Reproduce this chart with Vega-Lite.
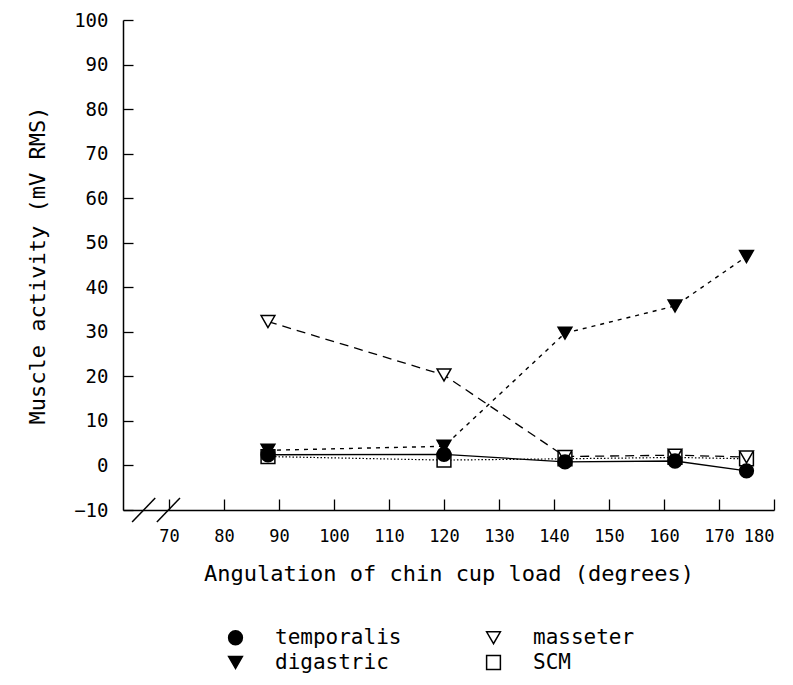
{
  "$schema": "https://vega.github.io/schema/vega-lite/v6.json",
  "width": 651,
  "height": 490,
  "autosize": "none",
  "padding": {"left": 123, "top": 20, "right": 19, "bottom": 175},
  "background": "white",
  "config": {
    "font": "DejaVu Sans Mono",
    "view": {"stroke": null},
    "axis": {
      "grid": false,
      "domainColor": "black",
      "domainWidth": 1.5,
      "tickColor": "black",
      "tickWidth": 1.3,
      "labelColor": "black",
      "titleColor": "black",
      "titleFontWeight": "normal",
      "titleFontSize": 22,
      "labelFont": "DejaVu Sans Mono",
      "titleFont": "DejaVu Sans Mono"
    },
    "legend": {
      "symbolStrokeColor": "black",
      "symbolStrokeWidth": 1.5,
      "labelColor": "black",
      "labelFont": "DejaVu Sans Mono",
      "padding": 0
    }
  },
  "datasets": {
    "emg": [
      {"muscle": "SCM", "angle": 88, "value": 2.0},
      {"muscle": "SCM", "angle": 120, "value": 1.2},
      {"muscle": "SCM", "angle": 142, "value": 1.5},
      {"muscle": "SCM", "angle": 162, "value": 1.8},
      {"muscle": "SCM", "angle": 175, "value": 1.5},
      {"muscle": "masseter", "angle": 88, "value": 32.3},
      {"muscle": "masseter", "angle": 120, "value": 20.3},
      {"muscle": "masseter", "angle": 142, "value": 2.0},
      {"muscle": "masseter", "angle": 162, "value": 2.3},
      {"muscle": "masseter", "angle": 175, "value": 1.9},
      {"muscle": "digastric", "angle": 88, "value": 3.4},
      {"muscle": "digastric", "angle": 120, "value": 4.3},
      {"muscle": "digastric", "angle": 142, "value": 29.7},
      {"muscle": "digastric", "angle": 162, "value": 35.8},
      {"muscle": "digastric", "angle": 175, "value": 46.9},
      {"muscle": "temporalis", "angle": 88, "value": 2.4},
      {"muscle": "temporalis", "angle": 120, "value": 2.5},
      {"muscle": "temporalis", "angle": 142, "value": 0.8},
      {"muscle": "temporalis", "angle": 162, "value": 1.0},
      {"muscle": "temporalis", "angle": 175, "value": -1.2}
    ],
    "breaks": [
      {"angle": 63.3, "angle2": 67.5, "value": -12.7, "value2": -7.3},
      {"angle": 67.8, "angle2": 72.0, "value": -12.7, "value2": -7.3}
    ]
  },
  "encoding": {
    "x": {
      "field": "angle", "type": "quantitative",
      "title": "Angulation of chin cup load (degrees)",
      "scale": {"domain": [61.64, 180], "nice": false, "zero": false},
      "axis": {
        "values": [70, 80, 90, 100, 110, 120, 130, 140, 150, 160, 170, 180],
        "tickSize": -11,
        "labelPadding": 29,
        "labelFontSize": 17,
        "titlePadding": 19
      }
    },
    "y": {
      "field": "value", "type": "quantitative",
      "title": "Muscle activity (mV RMS)",
      "scale": {"domain": [-10, 100], "nice": false, "zero": false},
      "axis": {
        "values": [-10, 0, 10, 20, 30, 40, 50, 60, 70, 80, 90, 100],
        "tickSize": -10,
        "labelPadding": 25,
        "labelFontSize": 19,
        "titlePadding": 24
      }
    }
  },
  "layer": [
    {
      "data": {"name": "emg"},
      "transform": [{"filter": "datum.muscle === 'temporalis'"}],
      "mark": {"type": "line", "color": "black", "strokeWidth": 1.3}
    },
    {
      "data": {"name": "emg"},
      "transform": [{"filter": "datum.muscle === 'masseter'"}],
      "mark": {"type": "line", "color": "black", "strokeWidth": 1.3, "strokeDash": [9, 6]}
    },
    {
      "data": {"name": "emg"},
      "transform": [{"filter": "datum.muscle === 'digastric'"}],
      "mark": {"type": "line", "color": "black", "strokeWidth": 1.4, "strokeDash": [4, 5]}
    },
    {
      "data": {"name": "emg"},
      "transform": [{"filter": "datum.muscle === 'SCM'"}],
      "mark": {"type": "line", "color": "black", "strokeWidth": 1.2, "strokeDash": [1.5, 2]}
    },
    {
      "data": {"name": "emg"},
      "mark": {"type": "point", "filled": true, "size": 190, "strokeWidth": 1.5, "opacity": 1},
      "encoding": {
        "shape": {
          "field": "muscle", "type": "nominal",
          "scale": {
            "domain": ["temporalis", "masseter", "digastric", "SCM"],
            "range": ["circle", "triangle-down", "triangle-down", "square"]
          },
          "legend": {
            "title": null,
            "orient": "none",
            "legendX": 102,
            "legendY": 607,
            "columns": 2,
            "direction": "horizontal",
            "columnPadding": 81,
            "rowPadding": 3,
            "symbolSize": 190,
            "symbolStrokeWidth": 1.5,
            "labelFontSize": 21,
            "labelOffset": 29
          }
        },
        "fill": {
          "field": "muscle", "type": "nominal",
          "scale": {
            "domain": ["temporalis", "masseter", "digastric", "SCM"],
            "range": ["black", "white", "black", "white"]
          },
          "legend": {
            "title": null,
            "orient": "none",
            "legendX": 102,
            "legendY": 607,
            "columns": 2,
            "direction": "horizontal",
            "columnPadding": 81,
            "rowPadding": 3,
            "symbolSize": 190,
            "symbolStrokeWidth": 1.5,
            "labelFontSize": 21,
            "labelOffset": 29
          }
        },
        "stroke": {
          "field": "muscle", "type": "nominal",
          "scale": {
            "domain": ["temporalis", "masseter", "digastric", "SCM"],
            "range": ["black", "black", "black", "black"]
          },
          "legend": {
            "title": null,
            "orient": "none",
            "legendX": 102,
            "legendY": 607,
            "columns": 2,
            "direction": "horizontal",
            "columnPadding": 81,
            "rowPadding": 3,
            "symbolSize": 190,
            "symbolStrokeWidth": 1.5,
            "labelFontSize": 21,
            "labelOffset": 29
          }
        }
      }
    },
    {
      "data": {"name": "breaks"},
      "mark": {"type": "rule", "color": "black", "strokeWidth": 1.5, "clip": false},
      "encoding": {
        "x2": {"field": "angle2"},
        "y2": {"field": "value2"}
      }
    }
  ]
}
